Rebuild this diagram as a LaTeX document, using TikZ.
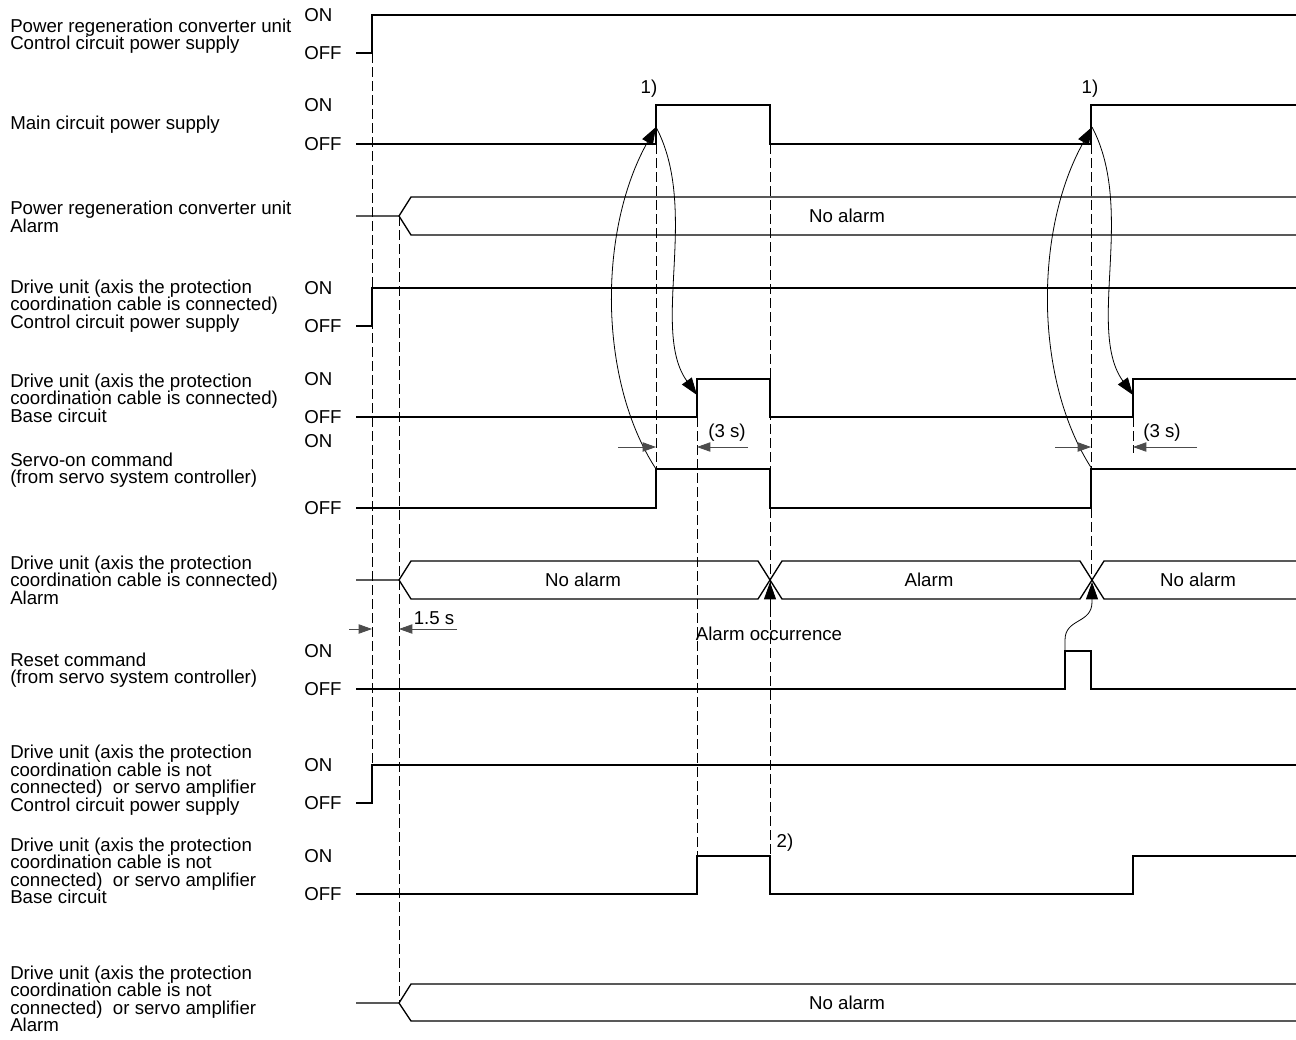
\documentclass[tikz,border=0pt]{standalone}
\usepackage{fontspec}
\setmainfont{Liberation Sans}
\usetikzlibrary{arrows.meta}

\begin{document}
\begin{tikzpicture}[x=0.75pt,y=-0.75pt,
every node/.style={font=\fontsize{14}{13.1}\selectfont, inner sep=0pt},
lbl/.style={anchor=west, align=left},
sig/.style={line width=1pt},
guide/.style={line width=0.6pt, dash pattern=on 7.5pt off 3pt},
lead/.style={line width=0.6pt, -{Triangle[length=13pt,width=9pt]}},
dimline/.style={line width=0.6pt, draw=black!70, -{Triangle[length=10pt,width=7pt]}}]
\useasboundingbox (0,0) rectangle (1296,1039);
% signal names
\node[lbl] (L1) at (10,36) {Power regeneration converter unit\\Control circuit power supply};
\node[lbl] (L2) at (10,125) {Main circuit power supply};
\node[lbl] (L3) at (10,217) {Power regeneration converter unit\\Alarm};
\node[lbl] (L4) at (10,306) {Drive unit (axis the protection\\coordination cable is connected)\\Control circuit power supply};
\node[lbl] (L5) at (10,398) {Drive unit (axis the protection\\coordination cable is connected)\\Base circuit};
\node[lbl] (L6) at (10,470) {Servo-on command\\(from servo system controller)};
\node[lbl] (L7) at (10,580) {Drive unit (axis the protection\\coordination cable is connected)\\Alarm};
\node[lbl] (L8) at (10,670) {Reset command\\(from servo system controller)};
\node[lbl] (L9) at (10,780) {Drive unit (axis the protection\\coordination cable is not\\connected)\ \ or servo amplifier\\Control circuit power supply};
\node[lbl] (L10) at (10,871) {Drive unit (axis the protection\\coordination cable is not\\connected)\ \ or servo amplifier\\Base circuit};
\node[lbl] (L11) at (10,999) {Drive unit (axis the protection\\coordination cable is not\\connected)\ \ or servo amplifier\\Alarm};
% ON / OFF levels
\foreach \n/\yon/\yoff in {1/15/53, 2/105/144, 4/288/326, 5/379/417, 6/441/508, 8/651/689, 9/765/803, 10/856/894} {
  \node[lbl] (on\n) at (304,\yon) {ON};
  \node[lbl] (off\n) at (304,\yoff) {OFF};
}
% guide lines
\draw[guide] (372,53) -- (372,765);
\draw[guide] (399,216) -- (399,1003);
\draw[guide] (656,144) -- (656,469);
\draw[guide] (697,417) -- (697,856);
\draw[guide] (770,144) -- (770,856);
\draw[guide] (1091,144) -- (1091,580);
\draw[guide] (1133,417) -- (1133,453);
% waveforms
\draw[sig] (356,53) -- (372,53) -- (372,15) -- (1296,15);
\draw[sig] (356,144) -- (656,144) -- (656,105) -- (770,105) -- (770,144) -- (1091,144) -- (1091,105) -- (1296,105);
\draw[sig] (356,216) -- (399,216) -- (411,197) -- (1296,197);
\draw[sig] (399,216) -- (411,235) -- (1296,235);
\draw[sig] (356,326) -- (372,326) -- (372,288) -- (1296,288);
\draw[sig] (356,417) -- (697,417) -- (697,379) -- (770,379) -- (770,417) -- (1133,417) -- (1133,379) -- (1296,379);
\draw[sig] (356,508) -- (656,508) -- (656,469) -- (770,469) -- (770,508) -- (1091,508) -- (1091,469) -- (1296,469);
\draw[sig] (356,580) -- (399,580) -- (411,561) -- (758,561) -- (782,599) -- (1080,599) -- (1104,561) -- (1296,561);
\draw[sig] (399,580) -- (411,599) -- (758,599) -- (782,561) -- (1080,561) -- (1104,599) -- (1296,599);
\draw[sig] (356,689) -- (1065,689) -- (1065,651) -- (1091,651) -- (1091,689) -- (1296,689);
\draw[sig] (356,803) -- (372,803) -- (372,765) -- (1296,765);
\draw[sig] (356,894) -- (697,894) -- (697,856) -- (770,856) -- (770,894) -- (1133,894) -- (1133,856) -- (1296,856);
\draw[sig] (356,1003) -- (399,1003) -- (411,984) -- (1296,984);
\draw[sig] (399,1003) -- (411,1021) -- (1296,1021);
% bus texts
\node (na1) at (847,216) {No alarm};
\node (na2) at (583,580) {No alarm};
\node (al2) at (929,580) {Alarm};
\node (na3) at (1198,580) {No alarm};
\node (na4) at (847,1003) {No alarm};
% edge points
\coordinate (mc1) at (656,127);
\coordinate (so1) at (656,469);
\coordinate (bc1) at (697,395);
\coordinate (mc2) at (1092,127);
\coordinate (so2) at (1092,469);
\coordinate (bc2) at (1133,395);
\coordinate (rs) at (1065,651);
\coordinate (x1) at (770,582);
\coordinate (x2) at (1092,582);
% sequence arrows
\draw[lead] (so1) .. controls (598,380) and (598,230) .. (mc1);
\draw[lead] (mc1) .. controls (700,210) and (650,330) .. (bc1);
\draw[lead] (so2) .. controls (1034,380) and (1034,230) .. (mc2);
\draw[lead] (mc2) .. controls (1136,210) and (1086,330) .. (bc2);
\draw[lead] (rs) -- (1065,640) .. controls (1065,618) and (1092,624) .. (1092,602) -- (x2);
\draw[lead] (770,617) -- (x1);
% time marks
\draw[dimline] (618,447) -- (656,447);
\draw[dimline] (748,447) -- (697,447);
\draw[dimline] (1055,447) -- (1091,447);
\draw[dimline] (1197,447) -- (1133,447);
\draw[dimline] (349,629) -- (372,629);
\draw[dimline] (457,629) -- (399,629);
\node (t1) at (727,433) {(3 s)};
\node (t2) at (1162,433) {(3 s)};
\node (t3) at (434,618) {1.5 s};
\node (n1) at (649,89) {1)};
\node (n2) at (1090,89) {1)};
\node (n3) at (785,843) {2)};
\node (ao) at (769,634) {Alarm occurrence};
\end{tikzpicture}
\end{document}
